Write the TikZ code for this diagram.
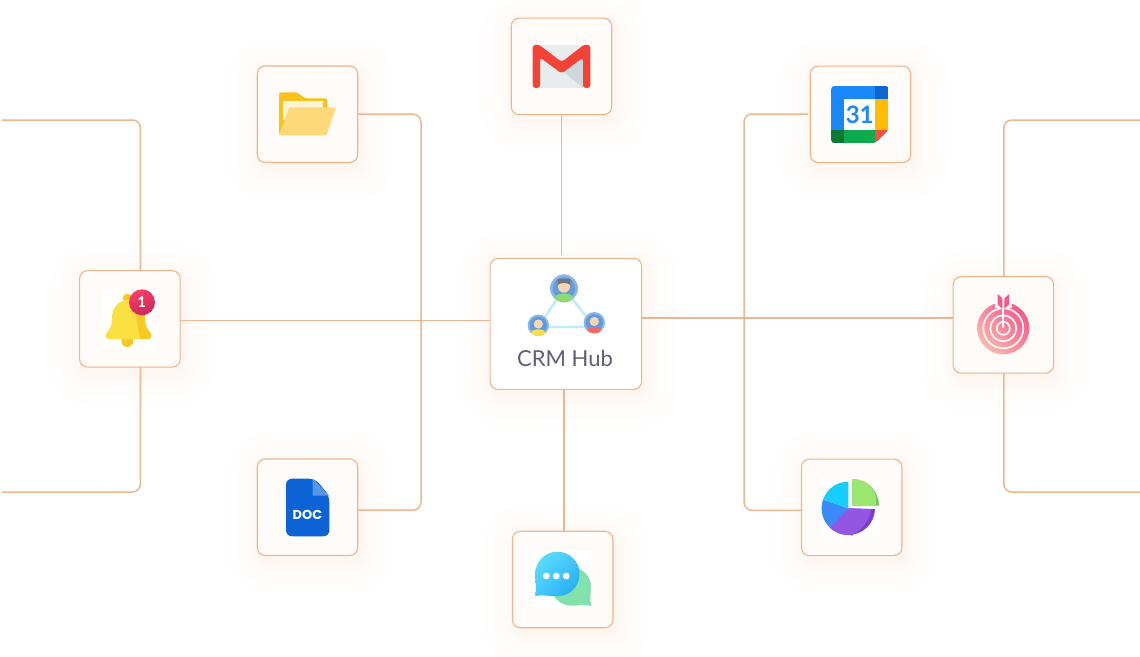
\documentclass[tikz,border=0pt]{standalone}
\usepackage{fontspec}
\setmainfont{Lato}
\newfontfamily\docfont{Poppins}
\usetikzlibrary{backgrounds,shadings}
\definecolor{lineor}{HTML}{EDB68C}
\definecolor{boxedge}{HTML}{F0B48A}
\definecolor{boxfill}{HTML}{FFFBF8}
\definecolor{glow}{HTML}{F4A36C}
\definecolor{ink}{HTML}{5C5F78}
\definecolor{F9C823}{HTML}{F9C823}
\definecolor{FCD5B0}{HTML}{FCD5B0}
\definecolor{ringblue}{HTML}{8CB5E5}
\definecolor{coreblue}{HTML}{5F9BDD}
\definecolor{hairgrey}{HTML}{7B7079}
\definecolor{bodygreen}{HTML}{90D873}
\definecolor{bodyyellow}{HTML}{FBE04C}
\definecolor{bodyred}{HTML}{F0696B}
\definecolor{chatA}{RGB}{98,226,255}
\definecolor{chatB}{RGB}{70,200,250}
\definecolor{chatC}{RGB}{28,165,245}
\definecolor{tgtA}{RGB}{252,204,180}
\definecolor{tgtB}{RGB}{248,135,155}
\definecolor{tgtC}{RGB}{245,70,130}
\definecolor{badgeA}{RGB}{250,60,105}
\definecolor{badgeB}{RGB}{205,40,90}
\tikzset{
  tilebox/.style={draw=boxedge,line width=1.1pt,fill=boxfill,rounded corners=8pt,minimum width=100.5pt,minimum height=96.5pt,inner sep=0pt,outer sep=0pt},
  hubbox/.style={tilebox,fill=white,minimum width=151.5pt,minimum height=131pt},
  conn/.style={draw=lineor,line width=1.5pt,rounded corners=8pt},
}
\newcommand{\softglow}[1]{%
  \begin{pgfonlayer}{background}
  \foreach \e in {1,2,3,5,7,9,12,15,19,23,28,33}{
    \pgfmathsetmacro{\rc}{8+\e}
    \fill[glow,opacity=.009,rounded corners=\rc pt]
      ([shift={(-\e pt+3pt,\e pt-6pt)}]#1.north west) rectangle ([shift={(\e pt+3pt,-\e pt-6pt)}]#1.south east);
  }
  \end{pgfonlayer}}
\newcommand{\personicon}[7]{% x y r ringcolor core body extras
  \begin{scope}[shift={(#1,#2)},scale=#3]
    \fill[#4] (0,0) circle (1);
    \fill[#5] (0,0) circle (.8);
    \begin{scope}
      \clip (0,0) circle (1);
      \fill[#6] (-.62,1.1) -- (-.62,.62) .. controls (-.62,.3) and (.62,.3) .. (.62,.62) -- (.62,1.1) -- cycle;
      \fill[FCD5B0] (0,-.12) circle (.43);
      #7
    \end{scope}
  \end{scope}}
\begin{document}
\begin{tikzpicture}[x=1pt,y=-1pt]
\useasboundingbox (0,0) rectangle (1140,656);
% tiles
\node[tilebox] (bell) at (129.9,318.9) {};
\node[tilebox] (folder) at (307.5,114.2) {};
\node[tilebox] (doc) at (307.5,507.2) {};
\node[tilebox] (gmail) at (561.5,66.4) {};
\node[tilebox] (chat) at (562.7,579.5) {};
\node[tilebox] (cal) at (860.5,114.3) {};
\node[tilebox] (pie) at (851.7,507.3) {};
\node[tilebox] (target) at (1003.4,324.9) {};
\node[hubbox] (hub) at (565.9,323.8) {};
\foreach \n in {bell,folder,doc,gmail,chat,cal,pie,target,hub}{\softglow{\n}}
% free ends of the connectors
\coordinate (ltop) at (2,120);
\coordinate (lbot) at (2,492);
\coordinate (rtop) at (1140,120);
\coordinate (rbot) at (1140,492);
\coordinate (gmailgap) at (561.7,255);
\coordinate (calgap) at (808,114);
\coordinate (midfold) at (421,300);
\coordinate (midcal) at (744,300);
% connectors
\draw[conn] (ltop) -| ([xshift=10.5pt]bell.north);
\draw[conn] (lbot) -| ([xshift=10.5pt]bell.south);
\draw[conn] (bell.east |- 0,320.5) -- (hub.west |- 0,320.5);
\draw[conn] (folder.east) -| (midfold) |- ([yshift=-3pt]doc.east);
\draw[conn] (gmail.south -| gmailgap) -- (gmailgap);
\draw[conn] (hub.south -| 563.8,0) -- (chat.north -| 563.8,0);
\draw[conn] (calgap) -| (midcal) |- ([yshift=-3pt]pie.west);
\draw[conn] (hub.east |- 0,318) -- (target.west |- 0,318);
\draw[conn] (rtop) -| ([xshift=.4pt]target.north);
\draw[conn] (rbot) -| ([xshift=.4pt]target.south);
% ---------- bell
\fill[white] (101.7,290) rectangle (156.7,348);
\fill[F9C823] (127.3,341) circle (6);
\fill[F9C823] (127.3,298) circle (4.5);
\begin{scope}
\clip (128.5,300) .. controls (118,300) and (112,308) .. (112,318) .. controls (112,326) and (110,329) .. (106.5,333) .. controls (104.5,336) and (106,339) .. (109,339) -- (148,339) .. controls (151,339) and (152.5,336) .. (150.5,333) .. controls (147,329) and (145,326) .. (145,318) .. controls (145,308) and (139,300) .. (128.5,300) -- cycle;
\fill[fill={rgb,255:red,250;green,224;blue,65}] (100,295) rectangle (155,345);
\fill[F9C823] (133,295) .. controls (138,310) and (135,325) .. (141,339.5) -- (155,340) -- (155,295) -- cycle;
\end{scope}
\shade[top color=badgeA,bottom color=badgeB,shading angle=20] (142,302.3) circle (13);
\node[text=white,font=\bfseries\fontsize{15}{15}\selectfont,inner sep=0pt] (badge) at (141.7,302.5) {1};
% ---------- folder
\fill[fill={rgb,255:red,248;green,194;blue,26},rounded corners=2.5pt] (279,135) -- (279,92.3) -- (297,92.3) -- (305,98.3) -- (327.3,98.3) -- (327.3,135) -- cycle;
\fill[fill={rgb,255:red,255;green,243;blue,214}] (283.3,101) rectangle (322.7,120);
\fill[fill={rgb,255:red,253;green,217;blue,122},rounded corners=2.5pt] (279,135) -- (289.3,107.3) -- (336.3,107.3) -- (326.5,135) -- cycle;
% ---------- document
\fill[fill={rgb,255:red,11;green,99;blue,214},rounded corners=6pt] (286,536.3) -- (286,478.7) -- (315,478.7) -- (329.3,495.7) -- (329.3,536.3) -- cycle;
\fill[fill={rgb,255:red,86;green,152;blue,232}] (312.7,478.7) -- (329.3,495.7) -- (312.7,495.7) -- cycle;
\node[text=white,font=\docfont\bfseries\fontsize{13}{13}\selectfont,inner sep=0pt] (doclabel) at (307.4,515.3) {DOC};
% ---------- gmail
\fill[fill={rgb,255:red,232;green,236;blue,239}] (538,44.7) rectangle (585,88);
\fill[fill={rgb,255:red,207;green,216;blue,220}] (561.7,70.5) -- (583,52) -- (583,88) -- cycle;
\fill[fill={rgb,255:red,244;green,67;blue,54},rounded corners=3pt] (532.7,88) -- (532.7,44.7) -- (539,44.7) -- (561.7,62) -- (584,44.7) -- (590.3,44.7) -- (590.3,88) -- (583,88) -- (583,57.5) -- (561.7,73.5) -- (540,57.5) -- (540,88) -- cycle;
% ---------- calendar
\begin{scope}
\clip[rounded corners=4pt] (831,85.7) -- (888.7,85.7) -- (888.7,130) -- (875,143.3) -- (831,143.3) -- cycle;
\fill[fill={rgb,255:red,26;green,136;blue,248}] (831,85.7) rectangle (888.7,143.3);
\fill[fill={rgb,255:red,13;green,101;blue,208}] (875,85.7) rectangle (888.7,99.3);
\fill[fill={rgb,255:red,255;green,188;blue,0}] (875,99.3) rectangle (888.7,130);
\fill[fill={rgb,255:red,13;green,169;blue,78}] (844.3,130) rectangle (875,143.3);
\fill[fill={rgb,255:red,10;green,122;blue,51}] (831,130) rectangle (844.3,143.3);
\fill[fill={rgb,255:red,249;green,80;blue,58}] (875,130) -- (888.7,130) -- (875,143.3) -- cycle;
\fill[white] (844.3,99.3) rectangle (875,130);
\end{scope}
\node[text={rgb,255:red,26;green,136;blue,248},font=\bfseries\fontsize{24}{24}\selectfont,inner sep=0pt] (calnum) at (859.7,114.8) {31};
% ---------- pie
\fill[white] (821,478) rectangle (880,538);
\fill[fill={rgb,255:red,122;green,62;blue,205}] (848.3,508.3) -- ++(2:26.7) arc[start angle=2,end angle=134,radius=26.7] -- cycle;
\fill[fill={rgb,255:red,146;green,86;blue,226}] (848.3,508.3) -- (871,509) .. controls (870,520) and (862,530) .. (853,534.5) -- ++(0,1) -- (848.3,535) arc[start angle=90,end angle=134,radius=26.7] -- cycle;
\fill[fill={rgb,255:red,58;green,139;blue,246}] (848.3,508.3) -- ++(134:26.7) arc[start angle=134,end angle=199,radius=26.7] -- cycle;
\fill[fill={rgb,255:red,23;green,205;blue,255}] (848.3,508.3) -- ++(199:26.7) arc[start angle=199,end angle=270,radius=26.7] -- cycle;
\fill[fill={rgb,255:red,102;green,206;blue,92}] (852.3,505.7) -- (852.3,479) arc[start angle=-90,end angle=0,radius=26.7] -- cycle;
\fill[fill={rgb,255:red,154;green,230;blue,110}] (852.3,505.7) -- (852.3,479) arc[start angle=-90,end angle=-15,radius=24.5] -- (876,505.7) -- cycle;
% ---------- chat
\fill[white] (533,551) rectangle (592,608);
\fill[fill={rgb,255:red,131;green,226;blue,172}] (591.5,606) .. controls (582,604) and (578,606) .. (571,605.7) .. controls (560,605.7) and (551,596) .. (551,587) .. controls (551,576) and (560,567) .. (571,567) .. controls (582,567) and (591,576) .. (591,587) .. controls (591,594) and (589,600) .. (591.5,606) -- cycle;
\shade[upper left=chatA,lower right=chatC,upper right=chatB,lower left=chatB]
  (535,596) .. controls (537,590) and (535.3,582) .. (535.3,574) .. controls (535.3,561.5) and (545,551.7) .. (557.3,551.7) .. controls (569.6,551.7) and (579.6,561.7) .. (579.6,574) .. controls (579.6,586.3) and (569.6,596.3) .. (557.3,596.3) .. controls (550,596.3) and (542,594.5) .. (535,596) -- cycle;
\foreach \dx in {546.3,556.3,566.3}{\fill[white] (\dx,576) circle (3.4);}
% ---------- target
\begin{scope}
\shade[lower left=tgtA,upper right=tgtC,upper left=tgtB,lower right=tgtB] (1003.3,328.3) circle (26);
\draw[white,line width=1.6pt] (1003.3,328.3) circle (20);
\draw[white,line width=1.6pt] (1003.3,328.3) circle (13);
\draw[white,line width=1.6pt] (1003.3,328.3) circle (6.5);
\fill[boxfill] (995,300) rectangle (1012,308);
\fill[white] (1002.4,304) rectangle (1004.4,328.3);
\fill[fill={rgb,255:red,243;green,88;blue,140}] (997.7,294) -- (1002.4,298.5) -- (1002.4,309) -- (997.7,304.5) -- cycle;
\fill[fill={rgb,255:red,243;green,88;blue,140}] (1009,294) -- (1004.4,298.5) -- (1004.4,309) -- (1009,304.5) -- cycle;
\end{scope}
% ---------- hub
\draw[line width=2.4pt,draw={rgb,255:red,191;green,235;blue,251}] (564,288.3) -- (538.3,327) -- (594.3,327) -- cycle;
\personicon{564}{288.3}{14}{ringblue}{coreblue}{bodygreen}{\fill[hairgrey] (-.45,-.25) -- (-.45,-.68) -- (.45,-.68) -- (.45,-.25) .. controls (.2,-.42) and (-.2,-.42) .. (-.45,-.25) -- cycle;}
\personicon{538.3}{325.3}{10.7}{ringblue}{coreblue}{bodyyellow}{}
\personicon{594.3}{322.7}{10.7}{ringblue}{coreblue}{bodyred}{}
\node[text=ink,font=\fontsize{22}{22}\selectfont,inner sep=0pt] (hublabel) at (565,358) {CRM Hub};
\end{tikzpicture}
\end{document}
